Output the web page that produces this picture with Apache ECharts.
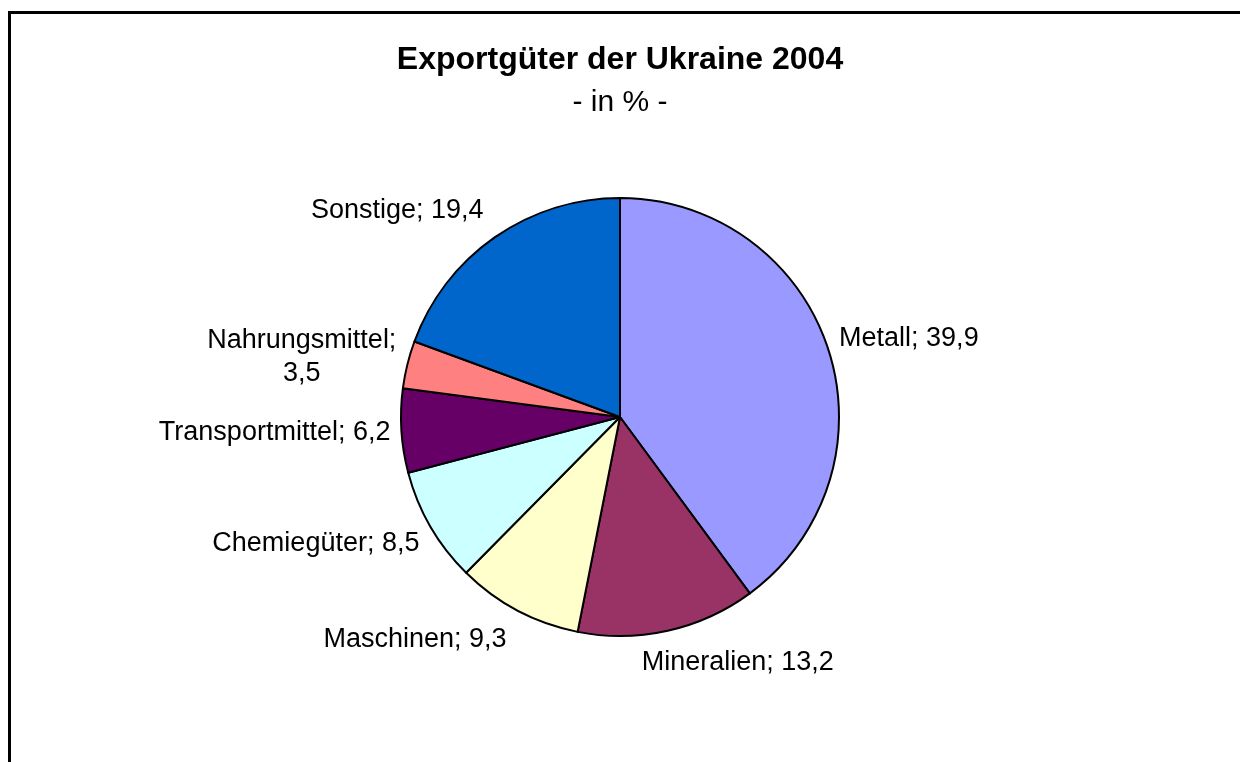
<!DOCTYPE html>
<html lang="de">
<head>
    <meta charset="UTF-8">
    <title>Exportgüter der Ukraine 2004</title>
    <script src="https://cdn.jsdelivr.net/npm/echarts@6.0.0/dist/echarts.min.js"></script>
    <style>
        html, body {
            margin: 0;
            padding: 0;
            background: #fff;
            overflow: hidden;
        }
        #frame {
            position: absolute;
            left: 8px;
            top: 11px;
            width: 1400px;
            height: 1000px;
            border: 3px solid #000;
        }
        #chartContainer {
            position: absolute;
            left: 0;
            top: 0;
            width: 1240px;
            height: 762px;
        }
    </style>
</head>
<body>
    <div id="frame"></div>
    <div id="chartContainer"></div>

    <script>
        // Daten (Anteile in %), im Uhrzeigersinn ab 12 Uhr
        const categories = ['Metall', 'Mineralien', 'Maschinen', 'Chemiegüter', 'Transportmittel', 'Nahrungsmittel', 'Sonstige'];
        const shares = [39.9, 13.2, 9.3, 8.5, 6.2, 3.5, 19.4];
        const sliceColors = ['#9999FF', '#993366', '#FFFFCC', '#CCFFFF', '#660066', '#FF8080', '#0066CC'];
        // Beschriftungen, die Excel umgebrochen hat
        const wrappedLabels = ['Nahrungsmittel'];

        const chart = echarts.init(document.getElementById('chartContainer'));

        const fontFamily = '"Liberation Sans", Arial, sans-serif';
        const pieCenter = [620, 417];
        const pieRadius = 219;
        const total = shares.reduce((a, b) => a + b, 0);

        // Excel legt die Beschriftung direkt neben den Kreisrand (Mitte des Segments)
        function placeLabel(params) {
            const i = params.dataIndex;
            let before = 0;
            for (let k = 0; k < i; k++) before += shares[k];
            const a = (before + shares[i] / 2) / total * Math.PI * 2;
            const ux = Math.sin(a);
            const uy = -Math.cos(a);
            const px = pieCenter[0] + pieRadius * ux;
            const py = pieCenter[1] + pieRadius * uy;
            const right = ux >= 0;
            let x = px + (right ? 11 : -11);
            // fast senkrecht unten: Excel rückt die Beschriftung etwas zur Mitte
            if (categories[i] === 'Mineralien') x -= 37;
            return {
                x: x,
                y: py + uy * 33,
                align: right ? 'left' : 'right',
                verticalAlign: 'middle'
            };
        }

        const option = {
            backgroundColor: 'transparent',
            animation: false,
            title: {
                text: 'Exportgüter der Ukraine 2004',
                subtext: '- in % -',
                left: 'center',
                top: 39,
                itemGap: 12,
                textStyle: {
                    fontFamily: fontFamily,
                    fontSize: 32,
                    fontWeight: 'bold',
                    color: '#000'
                },
                subtextStyle: {
                    fontFamily: fontFamily,
                    fontSize: 30,
                    color: '#000'
                }
            },
            series: [{
                type: 'pie',
                center: pieCenter,
                radius: pieRadius,
                startAngle: 90,
                clockwise: true,
                avoidLabelOverlap: false,
                data: categories.map((name, i) => ({
                    name: name,
                    value: shares[i],
                    itemStyle: { color: sliceColors[i] }
                })),
                itemStyle: {
                    borderColor: '#000',
                    borderWidth: 2
                },
                label: {
                    show: true,
                    position: 'outside',
                    alignTo: 'none',
                    fontFamily: fontFamily,
                    fontSize: 27,
                    color: '#000',
                    lineHeight: 33,
                    formatter: function (p) {
                        const val = p.value.toFixed(1).replace('.', ',');
                        if (wrappedLabels.indexOf(p.name) >= 0) {
                            return '{c|' + p.name + ';}\n{c|' + val + '}';
                        }
                        return p.name + '; ' + val;
                    },
                    rich: {
                        c: {
                            align: 'center',
                            fontFamily: fontFamily,
                            fontSize: 27,
                            lineHeight: 33,
                            color: '#000'
                        }
                    }
                },
                labelLine: {
                    show: false
                },
                labelLayout: placeLabel,
                emphasis: { disabled: true }
            }]
        };

        chart.setOption(option);

        window.addEventListener('resize', function () {
            chart.resize();
        });
    </script>
</body>
</html>
